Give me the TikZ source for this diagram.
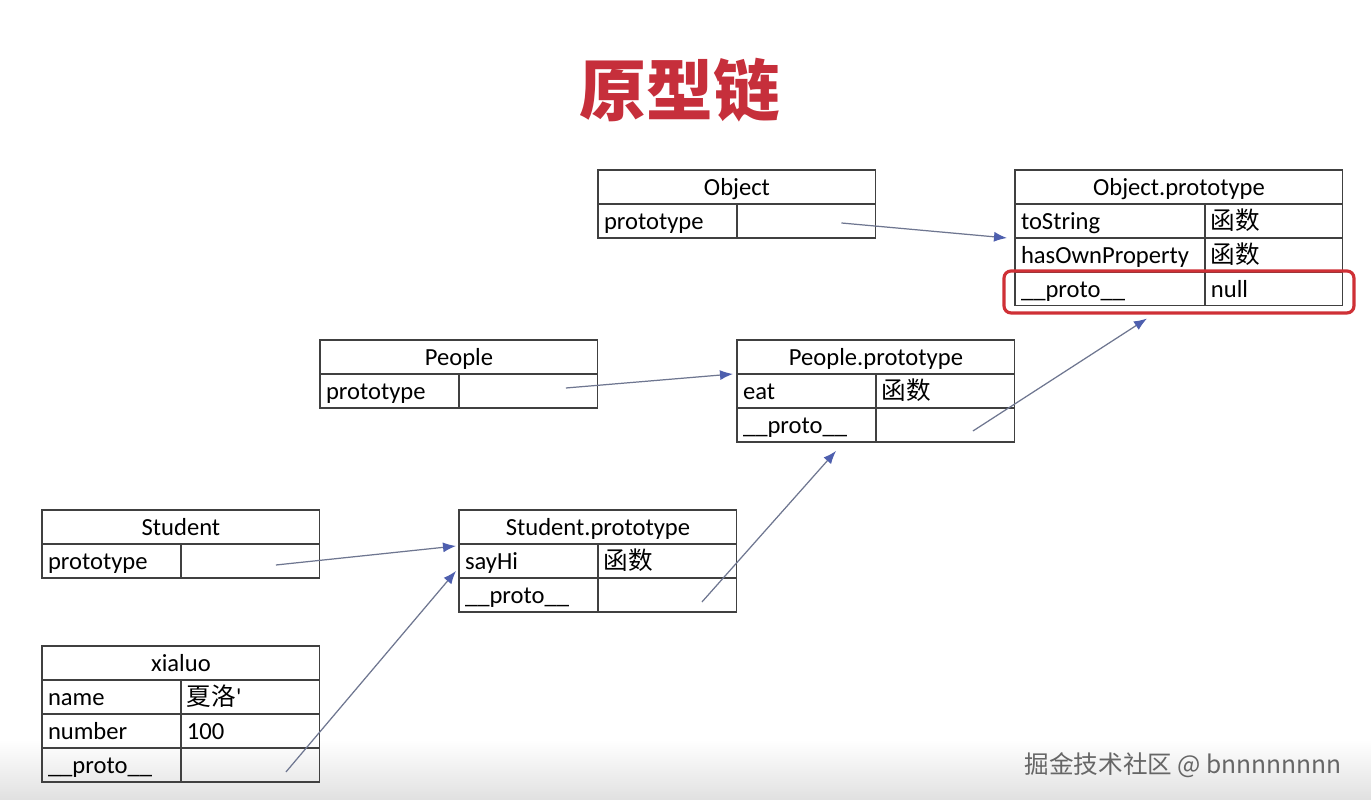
\documentclass[tikz,border=0pt]{standalone}
\usepackage{fontspec}
\setmainfont{Carlito}
\newfontfamily\cjk{Noto Sans CJK SC}
\usepackage{xcolor}
\usepackage{tikz}
\usetikzlibrary{positioning, fit, arrows.meta}
\definecolor{titlered}{HTML}{C62F3B}
\definecolor{boxred}{HTML}{CF3036}
\definecolor{linegray}{HTML}{6E7690}
\definecolor{headblue}{HTML}{4E5FAE}
\tikzstyle{arrow} = [draw=linegray, line width=0.7pt, -{Latex[length=0.26cm, width=0.2cm, color=headblue]}]
\tikzset{
  cell/.style={draw=black!75, line width=0.6pt, outer sep=0pt, inner ysep=0pt, minimum height=0.68cm,
    text height=1.0em, text depth=0em, font=\fontsize{14}{16}\selectfont},
  headcell/.style={cell, minimum width=#1, anchor=north west},
  keycell/.style={cell, text width=#1, inner xsep=0.12cm, align=left},
}

\begin{document}
\begin{tikzpicture}[x=0.02cm, y=-0.02cm]
\fill[white] (0,0) rectangle (1371,800);
\shade[top color=white, bottom color=black!12] (0,740) rectangle (1371,800);
\node (title) at (680,90) {\cjk\bfseries\fontsize{38}{40}\selectfont\textcolor{titlered}{原型链}};

% Object
\node (objh) [headcell=5.56cm] at (598,170) {Object};
\node (objk1) [keycell=2.54cm, anchor=north west] at (objh.south west) {prototype};
\node (objv1) [keycell=2.54cm, right=0pt of objk1] {};

% Object.prototype
\node (opth) [headcell=6.56cm] at (1015,170) {Object.prototype};
\node (optk1) [keycell=3.56cm, anchor=north west] at (opth.south west) {toString};
\node (optv1) [keycell=2.52cm, right=0pt of optk1] {\cjk 函数};
\node (optk2) [keycell=3.56cm, below=0pt of optk1] {hasOwnProperty};
\node (optv2) [keycell=2.52cm, right=0pt of optk2] {\cjk 函数};
\node (optk3) [keycell=3.56cm, below=0pt of optk2] {\_\_proto\_\_};
\node (optv3) [keycell=2.52cm, right=0pt of optk3] {null};
\node (hl) [draw=boxred, line width=1.8pt, rounded corners=4pt, inner xsep=0.22cm, inner ysep=0.08cm,
  yshift=-0.06cm, fit=(optk3)(optv3)] {};

% People
\node (ph) [headcell=5.56cm] at (320,340) {People};
\node (pk1) [keycell=2.54cm, anchor=north west] at (ph.south west) {prototype};
\node (pv1) [keycell=2.54cm, right=0pt of pk1] {};

% People.prototype
\node (ppth) [headcell=5.56cm] at (737,340) {People.prototype};
\node (pptk1) [keycell=2.54cm, anchor=north west] at (ppth.south west) {eat};
\node (pptv1) [keycell=2.54cm, right=0pt of pptk1] {\cjk 函数};
\node (pptk2) [keycell=2.54cm, below=0pt of pptk1] {\_\_proto\_\_};
\node (pptv2) [keycell=2.54cm, right=0pt of pptk2] {};

% Student
\node (sh) [headcell=5.56cm] at (42,510) {Student};
\node (sk1) [keycell=2.54cm, anchor=north west] at (sh.south west) {prototype};
\node (sv1) [keycell=2.54cm, right=0pt of sk1] {};

% Student.prototype
\node (spth) [headcell=5.56cm] at (459,510) {Student.prototype};
\node (sptk1) [keycell=2.54cm, anchor=north west] at (spth.south west) {sayHi};
\node (sptv1) [keycell=2.54cm, right=0pt of sptk1] {\cjk 函数};
\node (sptk2) [keycell=2.54cm, below=0pt of sptk1] {\_\_proto\_\_};
\node (sptv2) [keycell=2.54cm, right=0pt of sptk2] {};

% xialuo
\node (xh) [headcell=5.56cm] at (42,646) {xialuo};
\node (xk1) [keycell=2.54cm, anchor=north west] at (xh.south west) {name};
\node (xv1) [keycell=2.54cm, right=0pt of xk1] {{\cjk 夏洛}\textquotesingle};
\node (xk2) [keycell=2.54cm, below=0pt of xk1] {number};
\node (xv2) [keycell=2.54cm, right=0pt of xk2] {100};
\node (xk3) [keycell=2.54cm, below=0pt of xk2] {\_\_proto\_\_};
\node (xv3) [keycell=2.54cm, right=0pt of xk3] {};

\node (mark) [anchor=east, text=black!60] at (1348,765) {\cjk\fontsize{14}{16}\selectfont 掘金技术社区 @ bnnnnnnnn};

\draw [arrow] ([xshift=0.7cm, yshift=-0.04cm]objv1.center) -- ([xshift=-0.16cm]optk1.south west);
\draw [arrow] ([xshift=0.75cm, yshift=0.06cm]pv1.center) -- ([xshift=-0.08cm]pptk1.north west);
\draw [arrow] ([xshift=0.55cm, yshift=-0.12cm]pptv2.center) -- ([xshift=-0.64cm, yshift=-0.08cm]hl.south);
\draw [arrow] ([xshift=0.51cm, yshift=-0.08cm]sv1.center) -- ([xshift=-0.06cm, yshift=-0.04cm]sptk1.north west);
\draw [arrow] ([xshift=0.69cm, yshift=-0.14cm]sptv2.center) -- ([xshift=-0.8cm, yshift=-0.18cm]pptk2.south east);
\draw [arrow] ([xshift=0.71cm, yshift=-0.14cm]xv3.center) -- ([xshift=-0.06cm, yshift=0.14cm]sptk1.south west);
\end{tikzpicture}
\end{document}
